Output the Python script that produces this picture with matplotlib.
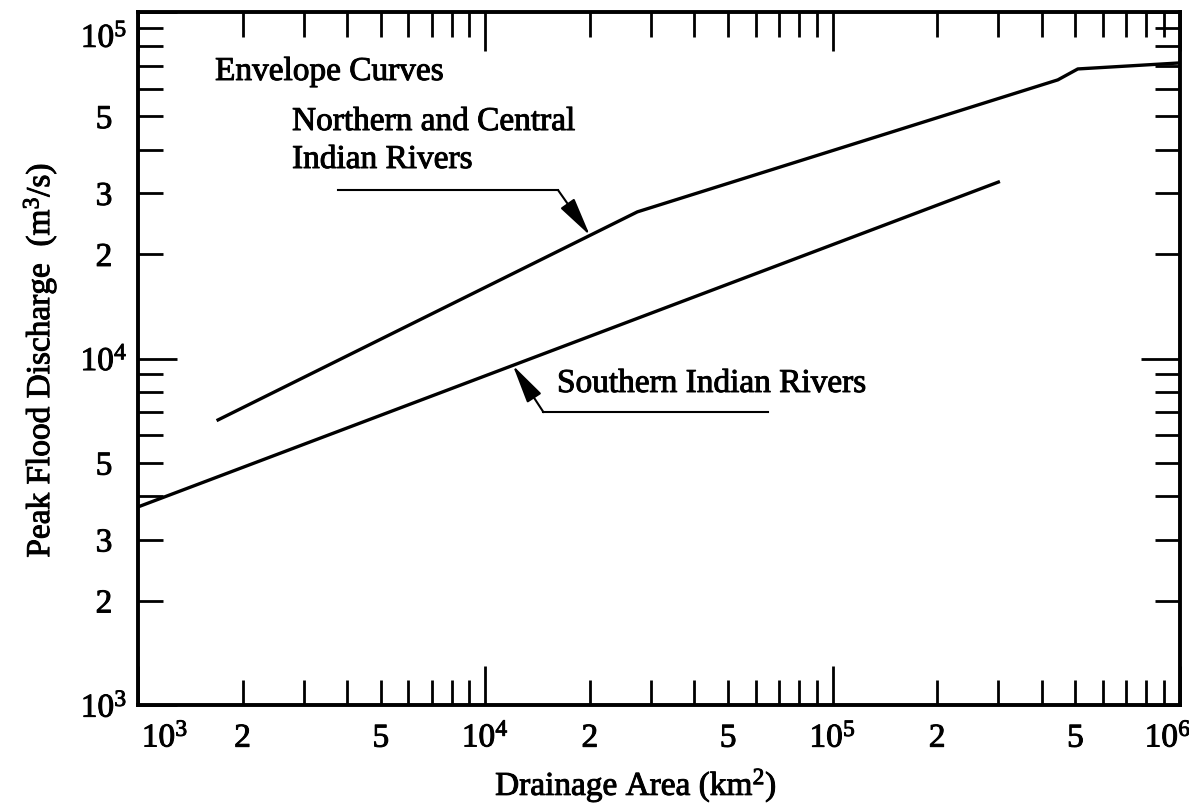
import numpy as np
import matplotlib
matplotlib.use("Agg")
import matplotlib.pyplot as plt
import matplotlib.patheffects as pe
from matplotlib.text import Text
from matplotlib.transforms import ScaledTranslation

plt.rcParams["font.family"] = "serif"
plt.rcParams["font.serif"] = ["Liberation Serif", "DejaVu Serif"]
plt.rcParams["mathtext.fontset"] = "custom"
plt.rcParams["mathtext.rm"] = "Liberation Serif"

# envelope curves: drainage area (km^2) -> peak flood discharge (m^3/s)
north_area = [1.7e3, 2.74e4, 4.45e5, 5.08e5, 1.0e6]
north_peak = [6650, 26500, 63700, 68500, 71300]
south_area = [1.0e3, 3.0e5]
south_peak = [3730, 32300]

x_decades = [1e3, 1e4, 1e5, 1e6]
y_decades = [1e3, 1e4, 1e5]
minor_mult = [2, 3, 4, 5, 6, 7, 8, 9]
x_labelled = [2, 5]
y_labelled = [2, 3, 5]

FS = 24
LINE = "black"


def decade_label(d):
    return r"$\mathregular{10^{%d}}$" % int(round(np.log10(d)))


def minor_ticks(decades, labelled):
    pos, labs = [], []
    for d in decades[:-1]:
        for m in minor_mult:
            pos.append(m * d)
            labs.append(str(m) if m in labelled else "")
    return pos, labs


def curve_at(x, xs, ys):
    # log-log interpolation along a piecewise curve
    return 10 ** np.interp(np.log10(x), np.log10(xs), np.log10(ys))


fig = plt.figure(figsize=(11.89, 8.06), dpi=100)
ax = fig.add_axes([0.1161, 0.1253, 0.8763, 0.8598])
ax.set_xscale("log")
ax.set_yscale("log")
ax.set_xlim(x_decades[0], x_decades[-1])
ax.set_ylim(y_decades[0], y_decades[-1])

ax.plot(north_area, north_peak, color=LINE, lw=2.4, solid_joinstyle="round")
ax.plot(south_area, south_peak, color=LINE, lw=2.4)

# ticks: decades long, 2..9 short, all pointing inward on four sides
ax.set_xticks(x_decades, labels=[decade_label(d) for d in x_decades])
xm, xl = minor_ticks(x_decades, x_labelled)
ax.set_xticks(xm, labels=xl, minor=True)
ax.set_yticks(y_decades, labels=[decade_label(d) for d in y_decades])
ym, yl = minor_ticks(y_decades, y_labelled)
ax.set_yticks(ym, labels=yl, minor=True)

ax.tick_params(which="both", direction="in", top=True, right=True,
               width=2.0, labelsize=FS, color=LINE)
ax.tick_params(which="major", length=28)
ax.tick_params(which="minor", length=18)
ax.tick_params(axis="x", which="both", pad=30)
ax.tick_params(axis="y", which="both", pad=24.5)
for sp in ax.spines.values():
    sp.set_linewidth(2.8)

for lab in ax.get_xticklabels(which="both"):
    lab.set_verticalalignment("baseline")
for lab in ax.get_yticklabels(which="both"):
    lab.set_horizontalalignment("center")

# nudge end labels so they stay inside the frame
xt = ax.get_xticklabels()
xt[0].set_transform(xt[0].get_transform() + ScaledTranslation(0.27, 0, fig.dpi_scale_trans))
xt[-1].set_transform(xt[-1].get_transform() + ScaledTranslation(-0.12, 0, fig.dpi_scale_trans))
yt = ax.get_yticklabels()
yt[-1].set_transform(yt[-1].get_transform() + ScaledTranslation(0, -0.23, fig.dpi_scale_trans))

# annotations
ax.text(0.0739, 0.9019, "Envelope Curves", transform=ax.transAxes,
        fontsize=FS, va="baseline", ha="left")
ax.text(0.1478, 0.8297, "Northern and Central", transform=ax.transAxes,
        fontsize=FS, va="baseline", ha="left")
ax.text(0.1478, 0.7749, "Indian Rivers", transform=ax.transAxes,
        fontsize=FS, va="baseline", ha="left")
ax.text(0.4021, 0.4517, "Southern Indian Rivers", transform=ax.transAxes,
        fontsize=FS, va="baseline", ha="left")

arrow = dict(arrowstyle="-|>,head_length=1.2,head_width=0.26",
             color=LINE, lw=1.5, shrinkA=0, shrinkB=0, mutation_scale=20)

# leader to the northern curve
n_tip = 2.0e4
n_lead_y = 3.06e4
ax.plot([3.77e3, 1.62e4], [n_lead_y, n_lead_y], color=LINE, lw=1.5)
ax.annotate("", xy=(n_tip, curve_at(n_tip, north_area, north_peak)),
            xytext=(1.62e4, n_lead_y), arrowprops=arrow)

# leader to the southern curve
s_tip = 1.2e4
s_lead_y = 7.0e3
ax.plot([1.47e4, 6.5e4], [s_lead_y, s_lead_y], color=LINE, lw=1.5)
ax.annotate("", xy=(s_tip, curve_at(s_tip, south_area, south_peak)),
            xytext=(1.47e4, s_lead_y), arrowprops=arrow)

fig.text(0.535, 0.0136, r"Drainage Area (km$\mathregular{^2}$)",
         fontsize=FS, ha="center", va="baseline")
fig.text(0.0336, 0.5533, r"Peak Flood Discharge  (m$\mathregular{^3}$/s)",
         fontsize=FS, ha="center", va="center", rotation=90)

# heavier ink on all lettering
for t in fig.findobj(Text):
    t.set_path_effects([pe.withStroke(linewidth=0.7, foreground=LINE)])

fig.savefig("out.png", dpi=100)
plt.close(fig)
